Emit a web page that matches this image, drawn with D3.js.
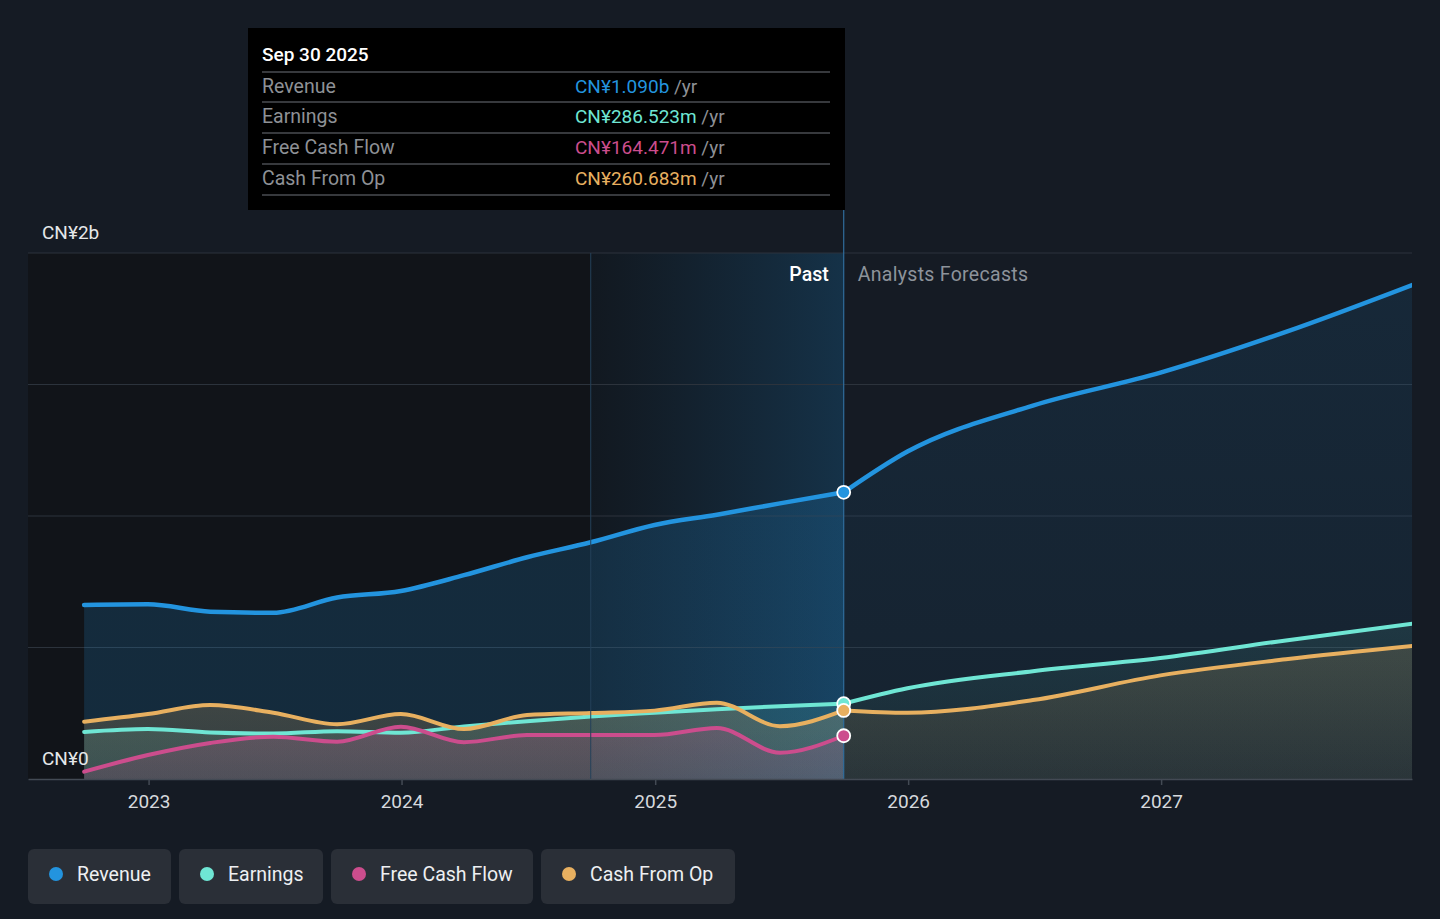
<!DOCTYPE html>
<html>
<head>
<meta charset="utf-8">
<script src="https://cdn.jsdelivr.net/npm/d3@7"></script>
<style>
  body { margin: 0; background: #151b24; font-family: Roboto, "Noto Sans", sans-serif; }
  svg { display: block; }
</style>
</head>
<body>
<div id="chart"></div>
<script>
// Past quarters (trailing twelve months), values in CN¥ billions
var pastDates = ["2022-09-30", "2022-12-31", "2023-03-31", "2023-06-30", "2023-09-30", "2023-12-31",
  "2024-03-31", "2024-06-30", "2024-09-30", "2024-12-31", "2025-03-31", "2025-06-30", "2025-09-30"];
var revenuePast = [0.662, 0.664, 0.636, 0.632, 0.690, 0.715, 0.775, 0.843, 0.900, 0.966, 1.005, 1.048, 1.090];
var earningsPast = [0.179, 0.190, 0.177, 0.173, 0.182, 0.176, 0.200, 0.220, 0.238, 0.252, 0.265, 0.277, 0.2865];
var fcfPast = [0.028, 0.091, 0.137, 0.161, 0.142, 0.199, 0.140, 0.167, 0.167, 0.167, 0.194, 0.100, 0.1645];
var cfoPast = [0.218, 0.247, 0.281, 0.252, 0.208, 0.247, 0.190, 0.243, 0.251, 0.260, 0.290, 0.201, 0.2607];

// Analyst forecasts
var forecastDates = ["2025-09-30", "2025-12-31", "2026-06-30", "2026-12-31", "2027-06-30", "2027-12-31"];
var revenueForecast = [1.090, 1.245, 1.420, 1.545, 1.700, 1.880];
var earningsForecast = [0.2865, 0.345, 0.410, 0.460, 0.527, 0.591];
var cfoForecast = [0.2607, 0.252, 0.300, 0.394, 0.455, 0.506];

var yearTicks = [2023, 2024, 2025, 2026, 2027];
var yTickLabels = ["CN¥0", "CN¥2b"];

var tooltipDate = "Sep 30 2025";
var tooltipRows = [
  { name: "Revenue", value: "CN¥1.090b", color: "#2394df" },
  { name: "Earnings", value: "CN¥286.523m", color: "#6fe6d4" },
  { name: "Free Cash Flow", value: "CN¥164.471m", color: "#cc4d8d" },
  { name: "Cash From Op", value: "CN¥260.683m", color: "#e8b060" }
];

var W = 1440, H = 919;
var parse = d3.timeParse("%Y-%m-%d");

var svg = d3.select("#chart").append("svg")
  .attr("width", W)
  .attr("height", H);

var x = d3.scaleTime()
  .domain([parse("2022-07-11"), parse("2027-12-29")])
  .range([28, 1412]);
var y = d3.scaleLinear()
  .domain([0, 2])
  .range([779, 253]);

var nowDate = parse("2025-09-30");
var xNow = x(nowDate);
var xHighlight = x(parse("2024-09-30"));

var defs = svg.append("defs");
var clip = defs.append("clipPath").attr("id", "plotclip");
clip.append("rect").attr("x", 28).attr("y", 200).attr("width", 1384).attr("height", 579);

// Darker background for the past
svg.append("rect")
  .attr("x", 28).attr("y", y(2))
  .attr("width", xNow - 28).attr("height", y(0) - y(2))
  .attr("fill", "#111419");

// Blue highlight for the last year
var hl = defs.append("linearGradient").attr("id", "hl")
  .attr("x1", "0").attr("x2", "1").attr("y1", "0").attr("y2", "0");
hl.append("stop").attr("offset", "0").attr("stop-color", "#1d5d8f").attr("stop-opacity", 0.06);
hl.append("stop").attr("offset", "1").attr("stop-color", "#1d6fa8").attr("stop-opacity", 0.33);
svg.append("rect")
  .attr("x", xHighlight).attr("y", y(2))
  .attr("width", xNow - xHighlight).attr("height", y(0) - y(2))
  .attr("fill", "url(#hl)");

// Grid lines
svg.append("g").selectAll("line")
  .data([0.5, 1, 1.5, 2])
  .enter().append("line")
  .attr("x1", 28).attr("x2", 1412)
  .attr("y1", function (d) { return y(d); })
  .attr("y2", function (d) { return y(d); })
  .attr("stroke", "#2c333c")
  .attr("stroke-width", 1);

// Series
function toPoints(dates, values) {
  return dates.map(function (d, i) { return { date: parse(d), value: values[i] }; });
}

var series = [
  { key: "revenue", color: "#2394df", past: toPoints(pastDates, revenuePast), fc: toPoints(forecastDates, revenueForecast),
    pastOp: [0.18, 0.18], fcOp: [0.11, 0.06], width: 4.5 },
  { key: "earnings", color: "#6fe6d4", past: toPoints(pastDates, earningsPast), fc: toPoints(forecastDates, earningsForecast),
    pastOp: [0.14, 0.12], fcOp: [0.1, 0.04], width: 4 },
  { key: "cfo", color: "#e8b060", past: toPoints(pastDates, cfoPast), fc: toPoints(forecastDates, cfoForecast),
    pastOp: [0.2, 0.14], fcOp: [0.16, 0.08], width: 4 },
  { key: "fcf", color: "#cc4d8d", past: toPoints(pastDates, fcfPast), fc: [],
    pastOp: [0.2, 0.14], fcOp: [0, 0], width: 4 }
];

var area = d3.area()
  .x(function (d) { return x(d.date); })
  .y0(y(0))
  .y1(function (d) { return y(d.value); })
  .curve(d3.curveMonotoneX);
var line = d3.line()
  .x(function (d) { return x(d.date); })
  .y(function (d) { return y(d.value); })
  .curve(d3.curveMonotoneX);

var plot = svg.append("g").attr("clip-path", "url(#plotclip)");

function makeGrad(id, color, op) {
  var g = defs.append("linearGradient").attr("id", id)
    .attr("x1", 0).attr("x2", 0).attr("y1", 0).attr("y2", 1);
  g.append("stop").attr("offset", "0").attr("stop-color", color).attr("stop-opacity", op[0]);
  g.append("stop").attr("offset", "1").attr("stop-color", color).attr("stop-opacity", op[1]);
}

series.forEach(function (s) {
  makeGrad("past-" + s.key, s.color, s.pastOp);
  makeGrad("fc-" + s.key, s.color, s.fcOp);
  plot.append("path").datum(s.past).attr("d", area).attr("fill", "url(#past-" + s.key + ")");
  if (s.fc.length) {
    plot.append("path").datum(s.fc).attr("d", area).attr("fill", "url(#fc-" + s.key + ")");
  }
});

series.forEach(function (s) {
  plot.append("path").datum(s.past).attr("d", line)
    .attr("fill", "none").attr("stroke", s.color).attr("stroke-width", s.width)
    .attr("stroke-linecap", "round");
  if (s.fc.length) {
    plot.append("path").datum(s.fc).attr("d", line)
      .attr("fill", "none").attr("stroke", s.color).attr("stroke-width", s.width)
      .attr("stroke-linecap", "round");
  }
});

// Vertical lines
svg.append("line")
  .attr("x1", xHighlight).attr("x2", xHighlight)
  .attr("y1", y(2)).attr("y2", y(0))
  .attr("stroke", "#24405a").attr("stroke-width", 1);
svg.append("line")
  .attr("x1", xNow).attr("x2", xNow)
  .attr("y1", 210).attr("y2", y(0))
  .attr("stroke", "#2f6d9c").attr("stroke-width", 1.2);

// Current markers
series.forEach(function (s) {
  var last = s.past[s.past.length - 1];
  svg.append("circle")
    .attr("cx", x(last.date)).attr("cy", y(last.value))
    .attr("r", 6.5)
    .attr("fill", s.color)
    .attr("stroke", "#ffffff").attr("stroke-width", 1.8);
});

// X axis
var xAxis = svg.append("g")
  .attr("transform", "translate(0," + y(0) + ")")
  .call(d3.axisBottom(x)
    .tickValues(yearTicks.map(function (t) { return new Date(t, 0, 1); }))
    .tickFormat(d3.timeFormat("%Y"))
    .tickSize(6)
    .tickSizeOuter(0));
xAxis.select(".domain").attr("stroke", "#434a54").attr("stroke-width", 1.5);
xAxis.selectAll(".tick line").attr("stroke", "#434a54").attr("stroke-width", 1.5);
xAxis.selectAll(".tick text")
  .attr("fill", "#d6d9dd")
  .attr("font-size", "19px")
  .attr("font-family", "Roboto, sans-serif")
  .attr("dy", "1.05em");

// Y labels
svg.append("text").attr("x", 42).attr("y", 239).text(yTickLabels[1])
  .attr("fill", "#e6e8ea").attr("font-size", "19px");
svg.append("text").attr("x", 42).attr("y", 765).text(yTickLabels[0])
  .attr("fill", "#e6e8ea").attr("font-size", "19px");

// Past / forecast labels
svg.append("text").attr("x", xNow - 15).attr("y", 281).attr("text-anchor", "end")
  .text("Past").attr("fill", "#ffffff").attr("font-size", "19.5px").attr("font-weight", 500);
svg.append("text").attr("x", xNow + 14).attr("y", 281)
  .text("Analysts Forecasts").attr("fill", "#8d939b").attr("font-size", "19.5px").attr("letter-spacing", "0.3px");

// Tooltip box
var tip = svg.append("g");
tip.append("rect").attr("x", 248).attr("y", 28).attr("width", 597).attr("height", 182).attr("fill", "#000000");
tip.append("text").attr("x", 262).attr("y", 61).text(tooltipDate)
  .attr("fill", "#ffffff").attr("font-size", "19px").attr("font-weight", 500);
var rowY = [72, 102, 133, 164, 195];
rowY.forEach(function (ry) {
  tip.append("line").attr("x1", 262).attr("x2", 830).attr("y1", ry).attr("y2", ry)
    .attr("stroke", "#4a4d52").attr("stroke-width", 1.5);
});
tooltipRows.forEach(function (r, i) {
  var ty = rowY[i] + 21;
  tip.append("text").attr("x", 262).attr("y", ty).text(r.name)
    .attr("fill", "#8e9196").attr("font-size", "19.5px");
  var t = tip.append("text").attr("x", 575).attr("y", ty).attr("font-size", "19px");
  t.append("tspan").attr("fill", r.color).text(r.value);
  t.append("tspan").attr("fill", "#8e9196").text(" /yr");
});

// Legend
var legendItems = [
  { name: "Revenue", color: "#2394df", w: 143 },
  { name: "Earnings", color: "#6fe6d4", w: 144 },
  { name: "Free Cash Flow", color: "#cc4d8d", w: 202 },
  { name: "Cash From Op", color: "#e8b060", w: 194 }
];
var lx = 28;
legendItems.forEach(function (item) {
  var g = svg.append("g").attr("transform", "translate(" + lx + ",849)");
  g.append("rect").attr("width", item.w).attr("height", 55).attr("rx", 6).attr("fill", "#2a2f37");
  g.append("circle").attr("cx", 28).attr("cy", 25).attr("r", 7).attr("fill", item.color);
  g.append("text").attr("x", 49).attr("y", 31.5).text(item.name)
    .attr("fill", "#eef0f2").attr("font-size", "19.5px");
  lx += item.w + 8;
});
</script>
</body>
</html>
